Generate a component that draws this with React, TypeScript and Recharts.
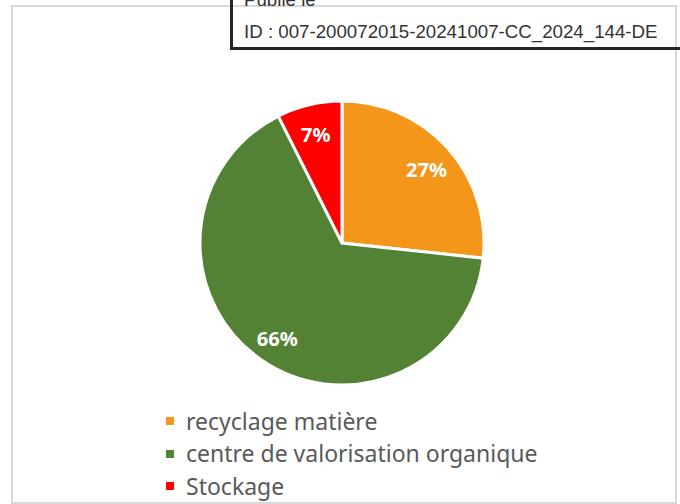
import React from "react";
import { PieChart, Pie, Cell, Legend } from "recharts";

const categories = ["recyclage matière", "centre de valorisation organique", "Stockage"];
const values = [26.7, 65.9, 7.4];
const colors = ["#F49619", "#548235", "#FF0000"];

const data = categories.map((name, i) => ({ name, value: values[i] }));

const RAD = Math.PI / 180;

const renderLabel = (props: any) => {
  const { cx, cy, midAngle, outerRadius, percent } = props;
  const r = outerRadius * 0.8;
  const x = cx + r * Math.cos(-midAngle * RAD);
  const y = cy + r * Math.sin(-midAngle * RAD) + 2;
  return (
    <text
      x={x}
      y={y}
      fill="#ffffff"
      textAnchor="middle"
      dominantBaseline="central"
      style={{ fontFamily: "'Noto Sans', sans-serif", fontWeight: 700, fontSize: 20 }}
    >
      {`${Math.round(percent * 100)}%`}
    </text>
  );
};

const LegendContent = () => (
  <div style={{ fontFamily: "'Noto Sans', sans-serif", fontSize: 23, color: "#595959", lineHeight: 1 }}>
    {categories.map((c, i) => (
      <div key={c} style={{ display: "flex", alignItems: "center", height: 32.5 }}>
        <span style={{ display: "inline-block", width: 8, height: 8, background: colors[i], marginRight: 12 }} />
        <span>{c}</span>
      </div>
    ))}
  </div>
);

export default function App() {
  return (
    <div style={{ position: "absolute", left: 0, top: 0, width: 680, height: 504, background: "#fff", overflow: "hidden" }}>
      <div style={{ position: "absolute", left: 11, top: 5, width: 662, height: 495, border: "2px solid #D9D9D9" }} />
      <div style={{ position: "absolute", left: 0, top: 0 }}>
        <PieChart width={680} height={504} margin={{ top: 0, right: 0, bottom: 0, left: 0 }}>
          <Pie
            data={data}
            dataKey="value"
            nameKey="name"
            cx={342}
            cy={243}
            outerRadius={142}
            startAngle={90}
            endAngle={-270}
            stroke="#ffffff"
            strokeWidth={3}
            labelLine={false}
            label={renderLabel}
            isAnimationActive={false}
          >
            {data.map((d, i) => (
              <Cell key={d.name} fill={colors[i]} />
            ))}
          </Pie>
          <Legend
            layout="horizontal"
            verticalAlign="bottom"
            align="left"
            wrapperStyle={{ left: 166, top: 405, bottom: "auto", width: 450 }}
            content={<LegendContent />}
          />
        </PieChart>
      </div>
      <div
        style={{
          position: "absolute",
          left: 230,
          top: -20,
          width: 480,
          height: 64,
          border: "3px solid #262626",
          fontFamily: "'Liberation Sans', Arial, sans-serif",
          fontSize: 18.7,
          color: "#333333",
        }}
      >
        <div style={{ position: "absolute", left: 11, top: 6 }}>Publié le</div>
        <div style={{ position: "absolute", left: 11, top: 38 }}>ID : 007-200072015-20241007-CC_2024_144-DE</div>
      </div>
    </div>
  );
}
